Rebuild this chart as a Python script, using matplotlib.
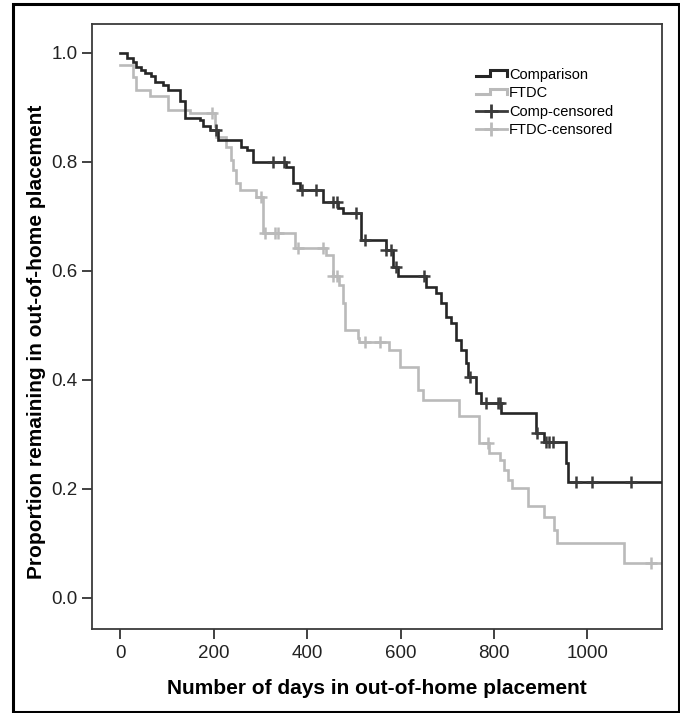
import numpy as np
import matplotlib
matplotlib.use("Agg")
import matplotlib.pyplot as plt
from matplotlib.lines import Line2D
from matplotlib.patches import Rectangle
from matplotlib.legend_handler import HandlerBase

plt.rcParams['font.family'] = ['Liberation Sans', 'DejaVu Sans']

# ---------------- data ----------------
comp_start = 1.0
comp_times = [13, 27, 34, 45, 52, 66, 73, 91, 102, 127, 138, 170, 177, 191, 209, 259, 270, 284,
              355, 369, 384, 434, 466, 476, 516, 569, 583, 594, 655, 676, 687, 698, 708, 719,
              730, 740, 745, 762, 772, 815, 890, 908, 954, 958]
comp_surv = [0.990, 0.984, 0.975, 0.969, 0.963, 0.957, 0.947, 0.941, 0.932, 0.911, 0.880, 0.877,
             0.865, 0.859, 0.840, 0.828, 0.822, 0.800, 0.791, 0.761, 0.749, 0.727, 0.715, 0.706,
             0.657, 0.638, 0.608, 0.590, 0.571, 0.559, 0.541, 0.516, 0.504, 0.473, 0.455, 0.431,
             0.406, 0.376, 0.357, 0.339, 0.302, 0.287, 0.247, 0.213]
comp_censor = [205, 326, 350, 388, 419, 455, 463, 505, 523, 569, 580, 590, 651, 748, 784, 808,
               812, 892, 912, 919, 926, 976, 1011, 1093]
comp_end = 1170

ftdc_start = 0.978
ftdc_times = [27, 34, 63, 102, 148, 202, 205, 227, 237, 241, 248, 255, 291, 305, 374, 441, 455,
              469, 476, 480, 508, 512, 576, 598, 637, 647, 726, 769, 790, 812, 822, 830, 838,
              872, 908, 929, 936, 1079]
ftdc_surv = [0.955, 0.932, 0.920, 0.895, 0.889, 0.865, 0.846, 0.828, 0.804, 0.785, 0.761, 0.749,
             0.736, 0.669, 0.642, 0.629, 0.590, 0.574, 0.541, 0.492, 0.477, 0.470, 0.455, 0.424,
             0.382, 0.363, 0.333, 0.284, 0.266, 0.253, 0.235, 0.217, 0.201, 0.168, 0.149, 0.125,
             0.100, 0.064]
ftdc_censor = [195, 302, 310, 330, 337, 380, 434, 455, 463, 523, 555, 787, 1136]
ftdc_end = 1170

labels = ["Comparison", "FTDC", "Comp-censored", "FTDC-censored"]
x_ticks = [0, 200, 400, 600, 800, 1000]
y_ticks = [0.0, 0.2, 0.4, 0.6, 0.8, 1.0]
x_label = "Number of days in out-of-home placement"
y_label = "Proportion remaining in out-of-home placement"

# ---------------- styles ----------------
DARK = '#262626'
DARK_C = '#3a3a3a'
GRAY = '#bababa'
LW = 1.9

W, H = 680, 713
fig = plt.figure(figsize=(W / 100, H / 100), dpi=100)
ax = fig.add_axes([92 / W, 1 - 629 / H, (662 - 92) / W, (629 - 24) / H])


def step_xy(start, times, surv, end):
    x = np.concatenate([[0], times, [end]])
    y = np.concatenate([[start], surv, [surv[-1]]])
    return x, y


def censor_y(start, times, surv, ctimes):
    levels = np.concatenate([[start], surv])
    idx = np.searchsorted(np.asarray(times), np.asarray(ctimes), side='right')
    return levels[idx]


xc, yc = step_xy(comp_start, comp_times, comp_surv, comp_end)
xf, yf = step_xy(ftdc_start, ftdc_times, ftdc_surv, ftdc_end)

ax.step(xf, yf, where='post', color=GRAY, lw=LW, zorder=2, solid_joinstyle='miter')
ax.plot(ftdc_censor, censor_y(ftdc_start, ftdc_times, ftdc_surv, ftdc_censor), ls='none',
        marker='+', ms=8, mew=1.8, color=GRAY, zorder=3)
ax.step(xc, yc, where='post', color=DARK, lw=LW, zorder=4, solid_joinstyle='miter')
ax.plot(comp_censor, censor_y(comp_start, comp_times, comp_surv, comp_censor), ls='none',
        marker='+', ms=8, mew=1.8, color=DARK_C, zorder=5)

ax.set_xlim(-61, 1160)
ax.set_ylim(-0.057, 1.053)
ax.set_xticks(x_ticks)
ax.set_xticklabels([str(v) for v in x_ticks])
ax.set_yticks(y_ticks)
ax.set_yticklabels([f"{v:.1f}" for v in y_ticks])
ax.tick_params(axis='both', direction='out', length=7.5, width=1.3, colors='#333333',
               labelsize=13.5, labelcolor='#222222', pad=3)
ax.tick_params(axis='x', pad=4)
for s in ax.spines.values():
    s.set_color('#3a3a3a')
    s.set_linewidth(1.3)

ax.set_xlabel(x_label, fontsize=15, fontweight='bold', labelpad=12)
ax.set_ylabel(y_label, fontsize=15, fontweight='bold', labelpad=4)
ax.yaxis.label.set_y(0.474)


class StepHandler(HandlerBase):
    def create_artists(self, legend, orig_handle, xdescent, ydescent, width, height,
                       fontsize, trans):
        x0, y0 = -xdescent, -ydescent
        xs = [x0, x0 + 0.45 * width, x0 + 0.45 * width, x0 + width, x0 + width]
        ys = [y0 + 0.3 * height, y0 + 0.3 * height, y0 + 0.85 * height,
              y0 + 0.85 * height, y0 + 0.3 * height]
        ln = Line2D(xs, ys, color=orig_handle.get_color(), lw=orig_handle.get_linewidth(),
                    transform=trans, solid_joinstyle='miter')
        return [ln]


h_comp = Line2D([], [], color=DARK, lw=2.2)
h_ftdc = Line2D([], [], color=GRAY, lw=2.2)
h_cc = Line2D([], [], color=DARK_C, lw=2.0, marker='+', ms=10, mew=2.0)
h_fc = Line2D([], [], color=GRAY, lw=2.0, marker='+', ms=10, mew=2.0)
leg = ax.legend([h_comp, h_ftdc, h_cc, h_fc], labels,
                handler_map={h_comp: StepHandler(), h_ftdc: StepHandler()},
                loc='upper left', bbox_to_anchor=(476 / W, 1 - 68 / H),
                bbox_transform=fig.transFigure, frameon=False, fontsize=10.5,
                handlelength=2.1, handletextpad=0.15, labelspacing=0.3, borderpad=0,
                borderaxespad=0)

fig.add_artist(Rectangle((13 / W, 1.5 / H), (679 - 13) / W, (707.5) / H,
                         transform=fig.transFigure, fill=False, lw=2.2, ec='black'))

fig.savefig('out.png', dpi=100)
